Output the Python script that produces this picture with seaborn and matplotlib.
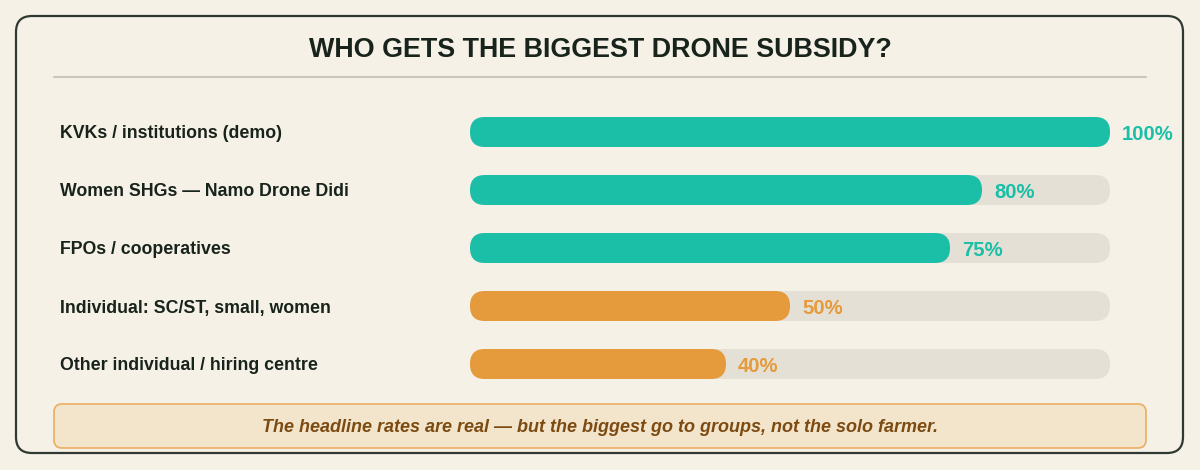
import matplotlib
matplotlib.use("Agg")
import matplotlib.pyplot as plt
import seaborn as sns
from matplotlib.patches import FancyBboxPatch
from matplotlib.lines import Line2D

CATEGORIES = [
    "KVKs / institutions (demo)",
    "Women SHGs \u2014 Namo Drone Didi",
    "FPOs / cooperatives",
    "Individual: SC/ST, small, women",
    "Other individual / hiring centre",
]
SUBSIDY = [100, 80, 75, 50, 40]
TRACK = [100, 100, 100, 100, 100]
BAR_COLORS = ["#1bbfa8", "#1bbfa8", "#1bbfa8", "#e59a3b", "#e59a3b"]
TITLE = "WHO GETS THE BIGGEST DRONE SUBSIDY?"
NOTE = "The headline rates are real \u2014 but the biggest go to groups, not the solo farmer."

BG = "#f6f1e7"
TRACK_COLOR = "#e4e0d6"
INK = "#17231b"

sns.set_theme(style="white")
plt.rcParams["font.family"] = ["Liberation Sans", "DejaVu Sans"]

W, H = 1200, 470
fig = plt.figure(figsize=(W / 100, H / 100), dpi=100, facecolor=BG)

# overlay axes in pixel coordinates for frame and text
base = fig.add_axes([0, 0, 1, 1])
base.set_xlim(0, W)
base.set_ylim(H, 0)
base.axis("off")
base.add_patch(FancyBboxPatch((16, 16), 1167, 437, boxstyle="round,pad=0,rounding_size=16",
                              facecolor=BG, edgecolor="#2e3a31", linewidth=1.6))
base.text(600, 50, TITLE, ha="center", va="center", fontsize=19.4, fontweight="bold", color=INK)
base.add_line(Line2D([54, 1146], [77, 77], color="#c9c7b9", linewidth=1.5))
for i, cat in enumerate(CATEGORIES):
    base.text(60, 132 + 58 * i, cat, ha="left", va="center_baseline", fontsize=12.8,
              fontweight="bold", color=INK)
base.add_patch(FancyBboxPatch((54, 404), 1092, 44, boxstyle="round,pad=0,rounding_size=8",
                              facecolor="#f3e4cc", edgecolor="#eaae62", linewidth=1.2))
base.text(600, 426, NOTE, ha="center", va="center_baseline", fontsize=13, fontweight="bold",
          style="italic", color="#7c4b12")

# bar axes: x 470..1110 px, rows centred at 132 + 58*i
left, right, top, bottom = 470, 1110, 103, 393
ax = fig.add_axes([left / W, 1 - bottom / H, (right - left) / W, (bottom - top) / H])
ax.set_facecolor("none")
sns.barplot(x=TRACK, y=CATEGORIES, orient="h", color=TRACK_COLOR, saturation=1,
            width=30 / 58, ax=ax)
sns.barplot(x=SUBSIDY, y=CATEGORIES, orient="h", hue=CATEGORIES, palette=BAR_COLORS,
            saturation=1, width=30 / 58, legend=False, ax=ax)
ax.set_xlim(0, 100)
ax.set_ylim(4.5, -0.5)
ax.axis("off")

px_x = 100 / (right - left)
px_y = 5 / (bottom - top)
aspect = px_y / px_x
for p in list(ax.patches):
    x, y = p.get_x(), p.get_y()
    w, h = p.get_width(), p.get_height()
    fc = p.get_facecolor()
    p.remove()
    ax.add_patch(FancyBboxPatch((x, y), w, h, boxstyle=f"round,pad=0,rounding_size={14.9 * px_x}",
                                mutation_aspect=aspect, facecolor=fc, edgecolor="none"))

for i, (v, c) in enumerate(zip(SUBSIDY, BAR_COLORS)):
    ax.annotate(f"{v}%", (v, i), xytext=(12, 0), textcoords="offset pixels",
                ha="left", va="center_baseline", fontsize=14.6, fontweight="bold", color=c,
                annotation_clip=False)

fig.savefig("out.png", dpi=100, facecolor=BG)
